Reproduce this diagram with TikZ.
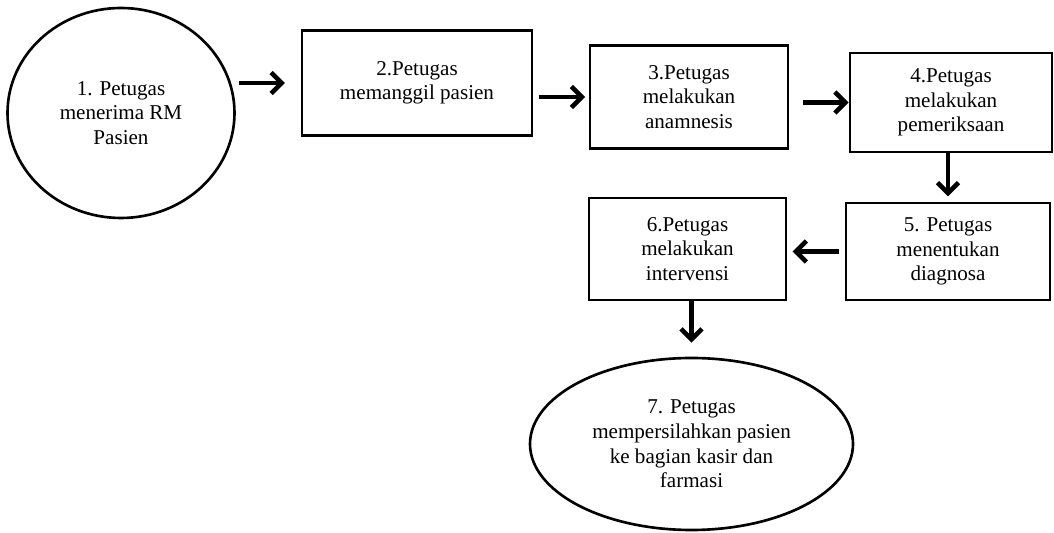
\documentclass[tikz,border=0pt]{standalone}
\usepackage{fontspec}
\setmainfont{Liberation Serif}
\usepackage{tikz}
\usetikzlibrary{arrows.meta, positioning, shapes.geometric}
\tikzset{
        >={Straight Barb[length=6pt,width=12pt]}, % open arrow heads like the scan
        arr/.style={->, line width=2.6pt}, % thick connecting arrows
        every node/.style={font=\fontsize{12}{14}\selectfont, align=center},
    }
\tikzstyle{proses}=[draw,line width=1.5pt,rectangle,inner sep=0pt]
\tikzstyle{terminal}=[draw,line width=1.5pt,ellipse,inner sep=0pt]

\begin{document}
\begin{tikzpicture}
    \useasboundingbox (0,0) rectangle (21.08,10.66);
    \node[terminal,minimum width=4.54cm,minimum height=4.2cm] (rm) at (2.42,8.40)
        {1. Petugas\\menerima RM\\Pasien};
    \node[proses,minimum width=4.6cm,minimum height=2.1cm] (panggil) at (8.34,9.00)
        {2.Petugas\\memanggil pasien};
    \node[proses,minimum width=3.96cm,minimum height=2.06cm] (anamnesis) at (13.78,8.72)
        {3.Petugas\\melakukan\\anamnesis};
    \node[proses,minimum width=4.04cm,minimum height=1.98cm] (periksa) at (19.02,8.61)
        {4.Petugas\\melakukan\\pemeriksaan};
    \node[proses,minimum width=4.08cm,minimum height=1.94cm] (diagnosa) at (18.96,5.63)
        {5. Petugas\\menentukan\\diagnosa};
    \node[proses,minimum width=3.94cm,minimum height=2.04cm] (intervensi) at (13.75,5.68)
        {6.Petugas\\melakukan\\intervensi};
    \node[terminal,minimum width=6.46cm,minimum height=3.44cm] (kasir) at (13.83,1.78)
        {7. Petugas\\mempersilahkan pasien\\ke bagian kasir dan\\farmasi};

    \draw[arr,shorten <=2pt,shorten >=9pt] (panggil.west -| rm.east) -- (panggil.west);
    \draw[arr,shorten <=3pt,shorten >=2pt] (panggil.east |- anamnesis.west) -- (anamnesis.west);
    \draw[arr,shorten <=8pt] (anamnesis.east |- periksa.west) -- (periksa.west);
    \draw[arr,shorten >=3pt] (periksa.south -| diagnosa.north) -- (diagnosa.north);
    \draw[arr,shorten <=3pt,shorten >=3pt] (diagnosa.west) -- (intervensi.east |- diagnosa.west);
    \draw[arr,shorten >=8pt] (intervensi.south -| kasir.north) -- (kasir.north);
\end{tikzpicture}
\end{document}
